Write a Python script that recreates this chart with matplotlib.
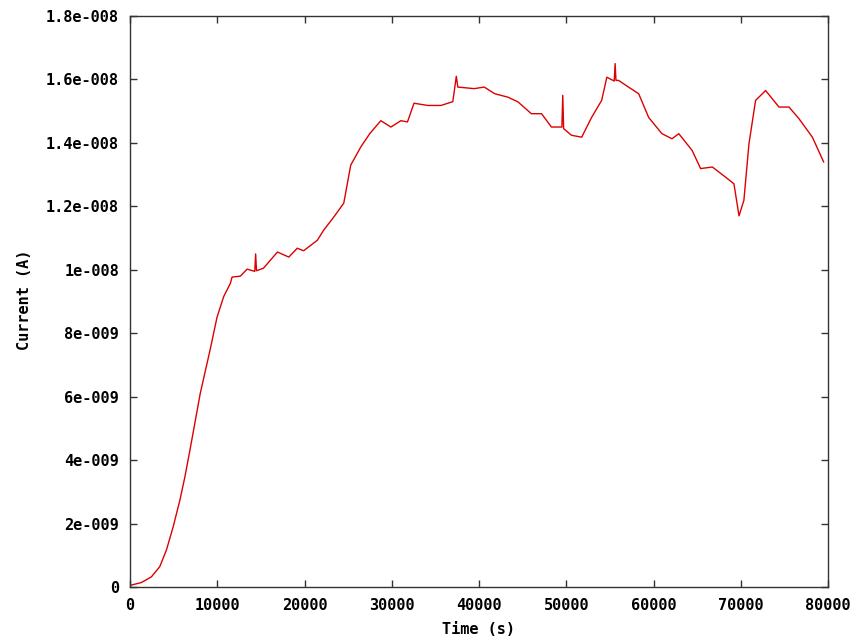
import numpy as np
import matplotlib
matplotlib.use('Agg')
import matplotlib.pyplot as plt

# 読み取った値 (time in s, current in nA)
time_s = [0, 1300, 2450, 3410, 4180, 4950, 5720, 6290, 6900, 8050,
          9200, 9970, 10730, 11500, 11700, 12650, 13420, 14300, 14400, 14500,
          15300, 16900, 18200, 19170, 19900, 21470, 22200, 23350, 24500, 25300,
          26450, 27500, 28750, 29900, 31050, 31800, 32550, 34120, 35650, 37000,
          37400, 37570, 39450, 40600, 41800, 43330, 44480, 46000, 47170, 48300,
          49500, 49600, 49700, 50600, 51770, 52900, 54060, 54650, 55500, 55600,
          55700, 56000, 57130, 58300, 59450, 60970, 62120, 62900, 64430, 65400,
          66750, 68260, 69220, 69800, 70360, 70940, 71700, 72850, 74380, 75530,
          76680, 78210, 79500]
current_nA = [0.05, 0.14, 0.32, 0.64, 1.17, 1.9, 2.74, 3.47, 4.36, 6.1,
              7.5, 8.5, 9.15, 9.57, 9.77, 9.8, 10.02, 9.95, 10.5, 9.97,
              10.05, 10.56, 10.4, 10.68, 10.6, 10.93, 11.25, 11.66, 12.1, 13.3,
              13.87, 14.3, 14.7, 14.5, 14.7, 14.66, 15.25, 15.18, 15.18, 15.3,
              16.1, 15.76, 15.71, 15.76, 15.55, 15.44, 15.29, 14.92, 14.92, 14.5,
              14.5, 15.5, 14.45, 14.24, 14.18, 14.8, 15.34, 16.07, 15.95, 16.5,
              15.97, 15.97, 15.76, 15.55, 14.8, 14.29, 14.13, 14.29, 13.76, 13.19,
              13.24, 12.92, 12.71, 11.7, 12.19, 13.97, 15.34, 15.65, 15.13, 15.13,
              14.76, 14.18, 13.4]

x_ticks = [0, 10000, 20000, 30000, 40000, 50000, 60000, 70000, 80000]
y_ticks = [0, 2e-9, 4e-9, 6e-9, 8e-9, 1e-8, 1.2e-8, 1.4e-8, 1.6e-8, 1.8e-8]
y_tick_labels = ['0', '2e-009', '4e-009', '6e-009', '8e-009', '1e-008',
                 '1.2e-008', '1.4e-008', '1.6e-008', '1.8e-008']

plt.rcParams['font.family'] = ['DejaVu Sans Mono']
plt.rcParams['font.weight'] = 'bold'

fig = plt.figure(figsize=(8.57, 6.36), dpi=100)
ax = fig.add_axes([130 / 857, 49 / 636, 698 / 857, 571 / 636])

t = np.array(time_s)
cur = np.array(current_nA) * 1e-9
ax.plot(t, cur, color='#dd0000', linewidth=1.0)

ax.set_xlim(0, 80000)
ax.set_ylim(0, 1.8e-8)
ax.set_xticks(x_ticks)
ax.set_xticklabels([str(v) for v in x_ticks])
ax.set_yticks(y_ticks)
ax.set_yticklabels(y_tick_labels)

ax.tick_params(direction='in', length=5, width=1, top=True, right=True,
               labelsize=11, pad=8, color='#333333')
for lbl in ax.get_xticklabels() + ax.get_yticklabels():
    lbl.set_fontweight('bold')
for sp in ax.spines.values():
    sp.set_linewidth(1)
    sp.set_color('#333333')

fig.text(478 / 857, 1 - 630 / 636, 'Time (s)', ha='center', va='center',
         fontsize=11, fontweight='bold')
fig.text(25 / 857, 1 - 300 / 636, 'Current (A)', ha='center', va='center',
         rotation=90, fontsize=11, fontweight='bold')

fig.savefig('out.png', dpi=100)
